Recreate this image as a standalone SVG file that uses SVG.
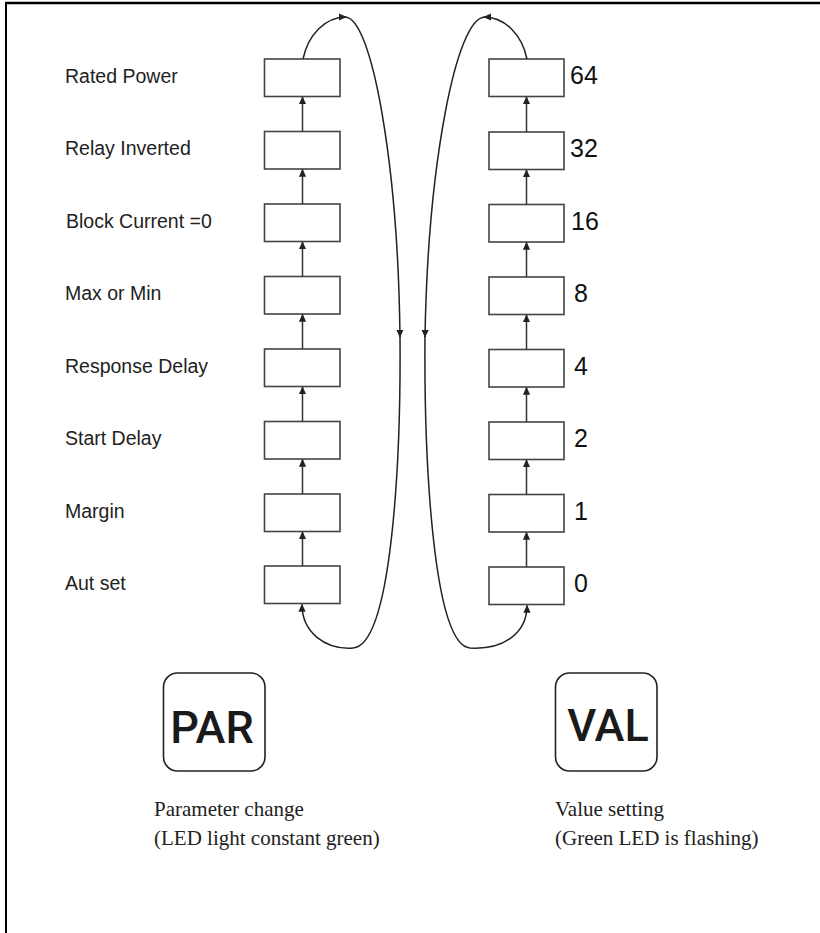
<svg xmlns="http://www.w3.org/2000/svg" width="820" height="933" viewBox="0 0 820 933">
<defs>
<marker id="ah" viewBox="0 0 10 10" refX="9" refY="5" markerWidth="8" markerHeight="8" markerUnits="userSpaceOnUse" orient="auto">
<path d="M0,0.5 L10,5 L0,9.5 Z" fill="#222"/>
</marker>
<style>
.box{fill:#fff;stroke:#444;stroke-width:1.6}
.lbl{font-family:"Liberation Sans",Arial,sans-serif;font-size:19.5px;fill:#222}
.num{font-family:"Liberation Sans",Arial,sans-serif;font-size:25px;fill:#111}
.btn{fill:#fff;stroke:#222;stroke-width:1.6}
.btxt{font-family:Roboto,"Liberation Sans",Arial,sans-serif;font-weight:500;font-size:45px;fill:#1a1a1a;text-anchor:middle}
.cap{font-family:"Liberation Serif","Times New Roman",serif;font-size:21px;fill:#222}
.con{fill:none;stroke:#333;stroke-width:1.5}
.loop{fill:none;stroke:#222;stroke-width:1.5}
</style>
</defs>
<g id="frame">
<line x1="5" y1="3" x2="820" y2="3" stroke="#000" stroke-width="2.5"/>
<line x1="6" y1="2" x2="6" y2="933" stroke="#000" stroke-width="2"/>
</g>
<g id="par-list">
<g id="p-rated"><rect class="box" x="264.5" y="59" width="75.5" height="37.5"/><text class="lbl" x="65" y="82.5">Rated Power</text></g>
<g id="p-relay"><rect class="box" x="264.5" y="131.5" width="75.5" height="37.5"/><text class="lbl" x="65" y="155">Relay Inverted</text></g>
<g id="p-block"><rect class="box" x="264.5" y="204" width="75.5" height="37.5"/><text class="lbl" x="66" y="227.5">Block Current =0</text></g>
<g id="p-maxmin"><rect class="box" x="264.5" y="276.5" width="75.5" height="37.5"/><text class="lbl" x="65" y="300">Max or Min</text></g>
<g id="p-resp"><rect class="box" x="264.5" y="349" width="75.5" height="37.5"/><text class="lbl" x="65" y="372.5">Response Delay</text></g>
<g id="p-start"><rect class="box" x="264.5" y="421.5" width="75.5" height="37.5"/><text class="lbl" x="65" y="445">Start Delay</text></g>
<g id="p-margin"><rect class="box" x="264.5" y="494" width="75.5" height="37.5"/><text class="lbl" x="65" y="517.5">Margin</text></g>
<g id="p-aut"><rect class="box" x="264.5" y="566" width="75.5" height="37.5"/><text class="lbl" x="65" y="589.5">Aut set</text></g>
</g>
<g id="val-list">
<g id="v-64"><rect class="box" x="489" y="59" width="75" height="37.5"/><text class="num" x="570" y="84">64</text></g>
<g id="v-32"><rect class="box" x="489" y="132" width="75" height="37.5"/><text class="num" x="570" y="157">32</text></g>
<g id="v-16"><rect class="box" x="489" y="204.5" width="75" height="37.5"/><text class="num" x="571" y="229.5">16</text></g>
<g id="v-8"><rect class="box" x="489" y="277" width="75" height="37.5"/><text class="num" x="574" y="302">8</text></g>
<g id="v-4"><rect class="box" x="489" y="349.5" width="75" height="37.5"/><text class="num" x="574" y="374.5">4</text></g>
<g id="v-2"><rect class="box" x="489" y="422" width="75" height="37.5"/><text class="num" x="574" y="447">2</text></g>
<g id="v-1"><rect class="box" x="489" y="494.5" width="75" height="37.5"/><text class="num" x="574" y="519.5">1</text></g>
<g id="v-0"><rect class="box" x="489" y="567" width="75" height="37.5"/><text class="num" x="574" y="592">0</text></g>
</g>
<g id="connectors">
<line class="con" x1="302.5" y1="131.5" x2="302.5" y2="97" marker-end="url(#ah)"/>
<line class="con" x1="302.5" y1="204" x2="302.5" y2="169.5" marker-end="url(#ah)"/>
<line class="con" x1="302.5" y1="276.5" x2="302.5" y2="242" marker-end="url(#ah)"/>
<line class="con" x1="302.5" y1="349" x2="302.5" y2="314.5" marker-end="url(#ah)"/>
<line class="con" x1="302.5" y1="421.5" x2="302.5" y2="387" marker-end="url(#ah)"/>
<line class="con" x1="302.5" y1="494" x2="302.5" y2="459.5" marker-end="url(#ah)"/>
<line class="con" x1="302.5" y1="566" x2="302.5" y2="532" marker-end="url(#ah)"/>
<line class="con" x1="526.5" y1="132" x2="526.5" y2="97" marker-end="url(#ah)"/>
<line class="con" x1="526.5" y1="204.5" x2="526.5" y2="170" marker-end="url(#ah)"/>
<line class="con" x1="526.5" y1="277" x2="526.5" y2="242.5" marker-end="url(#ah)"/>
<line class="con" x1="526.5" y1="349.5" x2="526.5" y2="315" marker-end="url(#ah)"/>
<line class="con" x1="526.5" y1="422" x2="526.5" y2="387.5" marker-end="url(#ah)"/>
<line class="con" x1="526.5" y1="494.5" x2="526.5" y2="460" marker-end="url(#ah)"/>
<line class="con" x1="526.5" y1="567" x2="526.5" y2="532.5" marker-end="url(#ah)"/>
<path class="loop" d="M303,59 C308,35 325,17 346,17" marker-end="url(#ah)"/>
<path class="loop" d="M345,17 C372,17 398,165 400,337" marker-end="url(#ah)"/>
<path class="loop" d="M400,336 C401,460 392,645 353,648 C325,650 302,632 302,604.5" marker-end="url(#ah)"/>
<path class="loop" d="M527,59 C522,35 505,17 484,17" marker-end="url(#ah)"/>
<path class="loop" d="M485,17 C456,17 428,165 425,337" marker-end="url(#ah)"/>
<path class="loop" d="M425,336 C424,460 433,645 470,648 C505,650 527,632 527,605.5" marker-end="url(#ah)"/>
</g>
<g id="par-button">
<rect class="btn" x="163.5" y="673" width="101.5" height="98" rx="14"/>
<text class="btxt" x="212" y="742.5">PAR</text>
<text class="cap" x="154" y="816">Parameter change</text>
<text class="cap" x="154" y="845">(LED light constant green)</text>
</g>
<g id="val-button">
<rect class="btn" x="555.5" y="673" width="101.5" height="98" rx="14"/>
<text class="btxt" x="608" y="741">VAL</text>
<text class="cap" x="555" y="816">Value setting</text>
<text class="cap" x="555" y="845">(Green LED is flashing)</text>
</g>
</svg>
